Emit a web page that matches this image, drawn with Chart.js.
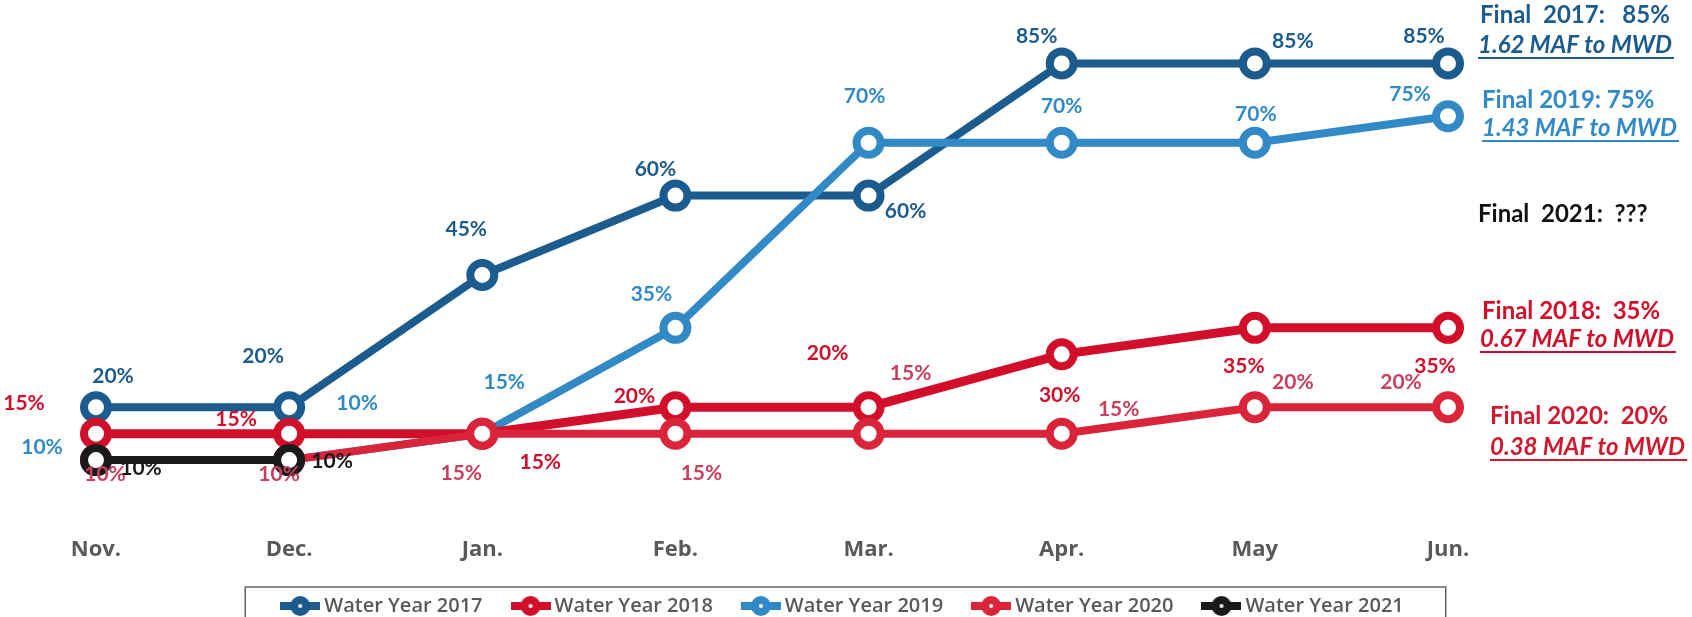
<!DOCTYPE html>
<html>
<head>
<meta charset="utf-8">
<script src="https://cdn.jsdelivr.net/npm/chart.js@4.4.0/dist/chart.umd.min.js"></script>
<style>
  html, body { margin: 0; padding: 0; background: #fff; }
  #caixa { width: 1692px; height: 617px; position: relative; }
</style>
</head>
<body>
<div id="caixa"><canvas id="graficoAgua"></canvas></div>
<script>
// dados (% de alocacao por mes)
const meses = ['Nov.', 'Dec.', 'Jan.', 'Feb.', 'Mar.', 'Apr.', 'May', 'Jun.'];
const series = ['Water Year 2017', 'Water Year 2018', 'Water Year 2019', 'Water Year 2020', 'Water Year 2021'];
const wy2017 = [20, 20, 45, 60, 60, 85, 85, 85];
const wy2018 = [15, 15, 15, 20, 20, 30, 35, 35];
const wy2019 = [10, 10, 15, 35, 70, 70, 70, 75];
const wy2020 = [10, 10, 15, 15, 15, 15, 20, 20];
const wy2021 = [10, 10, null, null, null, null, null, null];

// textos finais a direita
const finais = [
  { texto: 'Final  2017:   85%', y: 15, dx: 32, cor: '#1c5b8e', italico: false },
  { texto: '1.62 MAF to MWD', y: 45, dx: 30, cor: '#1c5b8e', italico: true },
  { texto: 'Final 2019: 75%', y: 100, dx: 34, cor: '#3189c6', italico: false },
  { texto: '1.43 MAF to MWD', y: 128, dx: 34, cor: '#3189c6', italico: true },
  { texto: 'Final  2021:  ???', y: 214, dx: 30, cor: '#111111', italico: false },
  { texto: 'Final 2018:  35%', y: 311, dx: 34, cor: '#d20f2b', italico: false },
  { texto: '0.67 MAF to MWD', y: 339, dx: 32, cor: '#d20f2b', italico: true },
  { texto: 'Final 2020:  20%', y: 416, dx: 42, cor: '#d0182e', italico: false },
  { texto: '0.38 MAF to MWD', y: 447, dx: 42, cor: '#d0182e', italico: true }
];

const cores = ['#1c5b8e', '#d20f2b', '#3189c6', '#d92439', '#1a1a1a'];
const coresRotulo = ['#1c5b8e', '#d20f2b', '#3189c6', '#c8405e', '#1a1a1a'];
const espessuras = [8, 9, 8, 8, 8];

// deslocamento dos rotulos (px) em relacao ao ponto
const deslocamentos = [
  [[17, -31], [-26, -51], [-16, -46], [-20, -26], [37, 16], [-25, -27], [38, -22], [-24, -27]],
  [[-72, -30], [-53, -14], [58, 29], [-41, -11], [-41, -54], [-2, 41], [-11, 38], [-13, 38]],
  [[-54, -13], [68, -57], [22, -51], [-24, -34], [-4, -46], [0, -36], [1, -28], [-38, -22]],
  [[9, 14], [-10, 14], [-21, 40], [26, 40], [42, -60], [57, -24], [38, -25], [-47, -25]],
  [[45, 8], [43, 1]]
];

function criarIcone(cor) {
  const c = document.createElement('canvas');
  c.width = 40; c.height = 22;
  const g = c.getContext('2d');
  g.strokeStyle = cor; g.lineWidth = 8;
  g.beginPath(); g.moveTo(0, 11); g.lineTo(40, 11); g.stroke();
  g.fillStyle = cor;
  g.beginPath(); g.arc(20, 11, 10, 0, Math.PI * 2); g.fill();
  g.fillStyle = '#fff';
  g.beginPath(); g.arc(20, 11, 2, 0, Math.PI * 2); g.fill();
  return c;
}
const icones = cores.map(criarIcone);

//rotulos de % perto dos pontos
const rotulosPlugin = {
  id: 'rotulos',
  afterDatasetsDraw(chart) {
    const ctx = chart.ctx;
    chart.data.datasets.forEach((ds, i) => {
      const meta = chart.getDatasetMeta(i);
      meta.data.forEach((pt, j) => {
        const v = ds.data[j];
        if (v == null) return;
        const off = deslocamentos[i][j];
        ctx.save();
        ctx.font = 'bold 21px Lato';
        ctx.fillStyle = coresRotulo[i];
        ctx.textAlign = 'center';
        ctx.textBaseline = 'middle';
        ctx.fillText(v + '%', pt.x + off[0], pt.y + off[1]);
        ctx.restore();
      });
    });
  }
};

//textos finais + moldura da legenda
const extrasPlugin = {
  id: 'extras',
  afterLayout(chart) {
    // legenda fica deslocada para a direita e um pouco para baixo no original
    chart.legend.left += 73;
    chart.legend.right += 73;
    chart.legend.top += 5;
    chart.legend.bottom += 5;
    // deixa espaco para os rotulos do eixo x nao serem cortados
    chart.scales.x.bottom += 14;
  },
  afterDraw(chart) {
    const ctx = chart.ctx;
    const area = chart.chartArea;
    ctx.save();
    finais.forEach(f => {
      ctx.font = (f.italico ? 'italic ' : '') + 'bold 24px Lato';
      ctx.fillStyle = f.cor;
      ctx.textAlign = 'left';
      ctx.textBaseline = 'middle';
      const x = area.right + f.dx;
      ctx.fillText(f.texto, x, f.y);
      if (f.italico) {
        const w = ctx.measureText(f.texto).width;
        ctx.strokeStyle = f.cor;
        ctx.lineWidth = 2;
        ctx.beginPath();
        ctx.moveTo(x, f.y + 13);
        ctx.lineTo(x + w + 2, f.y + 13);
        ctx.stroke();
      }
    });

    const caixas = chart.legend.legendHitBoxes;
    if (caixas && caixas.length) {
      const esq = caixas[0].left - 41;
      const ult = caixas[caixas.length - 1];
      const dir = ult.left + ult.width + 42;
      const topo = caixas[0].top + caixas[0].height / 2 - 19;
      ctx.strokeStyle = '#666';
      ctx.lineWidth = 1.5;
      ctx.strokeRect(esq, topo, dir - esq, 60);
    }
    ctx.restore();
  }
};

const valores = [wy2017, wy2018, wy2019, wy2020, wy2021];
const ordem = [5, 3, 4, 2, 1];

const ctx = document.getElementById('graficoAgua').getContext('2d');
const chartAgua = new Chart(ctx, {
  type: 'line',
  data: {
    labels: meses,
    datasets: series.map((nome, i) => ({
      label: nome,
      data: valores[i],
      borderColor: cores[i],
      backgroundColor: '#ffffff',
      pointBackgroundColor: '#ffffff',
      pointBorderColor: cores[i],
      borderWidth: espessuras[i],
      pointRadius: 12,
      pointBorderWidth: 8,
      pointHoverRadius: 12,
      tension: 0,
      fill: false,
      spanGaps: false,
      order: ordem[i]
    }))
  },
  options: {
    responsive: true,
    maintainAspectRatio: false,
    animation: false,
    layout: { padding: { left: 96, right: 244, top: 8, bottom: -4 } },
    scales: {
      y: { display: false, min: 0, max: 93.2 },
      x: {
        grid: { display: false, drawTicks: false },
        border: { display: false },
        ticks: { color: '#595959', padding: 24, font: { family: 'Open Sans', size: 22, weight: 'bold' } },
        afterFit(scale) { scale.height = 44; }
      }
    },
    plugins: {
      legend: {
        position: 'bottom',
        labels: {
          usePointStyle: true,
          pointStyleWidth: 28,
          padding: 34,
          color: '#595959',
          font: { family: 'Open Sans', size: 20, weight: '600' },
          sort: (a, b) => a.datasetIndex - b.datasetIndex,
          generateLabels(chart) {
            const itens = Chart.defaults.plugins.legend.labels.generateLabels(chart);
            itens.forEach(it => { it.pointStyle = icones[it.datasetIndex]; });
            return itens;
          }
        }
      },
      tooltip: { enabled: false }
    }
  },
  plugins: [rotulosPlugin, extrasPlugin]
});
</script>
</body>
</html>
